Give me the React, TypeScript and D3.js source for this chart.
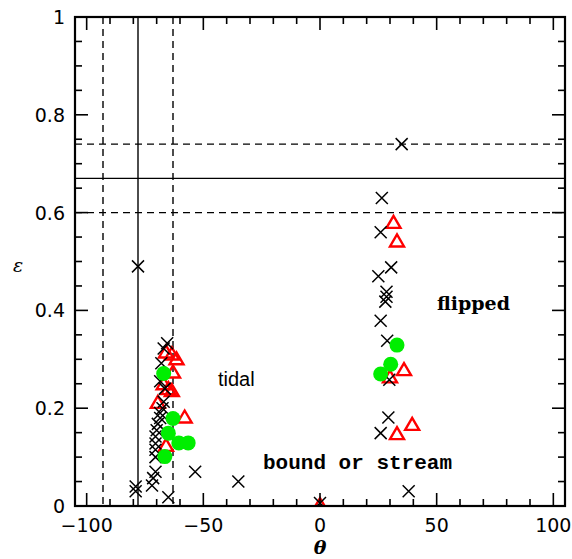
import React, { useEffect, useRef } from "react";
import * as d3 from "d3";

// Crosses: (theta, epsilon)
const crossTheta = [35, 26.5, 26, 25, 30.5, 28.5, 28.5, 28, 26, 28.8, 29.7, 29.3, 26, 38, -35,
  -78, -79, -79, -72, -71.5, -70.5, -65, -53.5,
  -70.5, -70.5, -70.5, -70.5, -70, -69.5, -68.5, -68.5, -67.5,
  -65.5, -67, -68, -68.5, -67, -66.5, 0];
const crossEps = [0.74, 0.63, 0.56, 0.47, 0.488, 0.438, 0.428, 0.418, 0.379, 0.338, 0.258, 0.181, 0.149, 0.03, 0.05,
  0.49, 0.04, 0.03, 0.042, 0.057, 0.07, 0.018, 0.07,
  0.1, 0.115, 0.128, 0.142, 0.155, 0.168, 0.18, 0.19, 0.2,
  0.333, 0.322, 0.292, 0.255, 0.213, 0.24, 0.006];

// Open triangles
const triTheta = [-66, -63.5, -61.5, -63, -67, -63.5, -65, -69.5, -58, -66,
  31.5, 33, 36, 39.5, 33, 30, 0];
const triEps = [0.316, 0.312, 0.302, 0.275, 0.251, 0.237, 0.241, 0.213, 0.183, 0.125,
  0.581, 0.543, 0.28, 0.168, 0.149, 0.265, 0.004];

// Filled circles
const circTheta = [-67, -63, -65, -60.5, -56.5, -66.5, 33, 30.3, 26];
const circEps = [0.271, 0.179, 0.149, 0.129, 0.129, 0.101, 0.329, 0.29, 0.27];

const xTicks = [-100, -50, 0, 50, 100];
const yTicks = [0, 0.2, 0.4, 0.6, 0.8, 1];
const xMinor = d3.range(-100, 101, 10);
const yMinor = d3.range(0, 1.001, 0.05);

// Reference lines: theta = -78 ± 15, epsilon = 0.67 ± 0.07
const thetaLine = -78;
const thetaBand = 15;
const epsLine = 0.67;
const epsBand = 0.07;

const regionLabels = ["tidal", "flipped", "bound or stream"];

const W = 572, H = 559;
const L = 75, R = 565, T = 17, B = 506;

export default function App() {
  const ref = useRef<SVGSVGElement>(null);
  useEffect(() => {
    const svg = d3.select(ref.current);
    svg.selectAll("*").remove();
    const x = d3.scaleLinear().domain([-105, 105]).range([L, R]);
    const y = d3.scaleLinear().domain([0, 1]).range([B, T]);
    const fmt = (v: number) => (v < 0 ? "\u2212" + Math.abs(v) : String(v));

    svg.append("defs").append("clipPath").attr("id", "plotclip")
      .append("rect").attr("x", L).attr("y", T).attr("width", R - L).attr("height", B - T);

    const g = svg.append("g");
    const lines = g.append("g").attr("stroke", "#000").attr("fill", "none").attr("stroke-width", 1.4);
    // vertical lines
    [[thetaLine, null], [thetaLine - thetaBand, "7,5"], [thetaLine + thetaBand, "7,5"]].forEach(([v, d]) => {
      lines.append("line").attr("x1", x(v as number)).attr("x2", x(v as number)).attr("y1", T).attr("y2", B)
        .attr("stroke-dasharray", d as any);
    });
    // horizontal lines
    [[epsLine, null], [epsLine - epsBand, "7,5"], [epsLine + epsBand, "7,5"]].forEach(([v, d]) => {
      lines.append("line").attr("y1", y(v as number)).attr("y2", y(v as number)).attr("x1", L).attr("x2", R)
        .attr("stroke-dasharray", d as any);
    });

    const marks = g.append("g").attr("clip-path", "url(#plotclip)");
    const tw = 7, th = 6;
    marks.selectAll("path.tri").data(d3.range(triTheta.length)).join("path")
      .attr("d", (i) => {
        const cx = x(triTheta[i]), cy = y(triEps[i]);
        return `M${cx - tw},${cy + th}L${cx + tw},${cy + th}L${cx},${cy - th}Z`;
      })
      .attr("fill", "none").attr("stroke", "#ff0000").attr("stroke-width", 2.4);
    const cs = 6;
    marks.selectAll("path.cross").data(d3.range(crossTheta.length)).join("path")
      .attr("d", (i) => {
        const cx = x(crossTheta[i]), cy = y(crossEps[i]);
        return `M${cx - cs},${cy - cs}L${cx + cs},${cy + cs}M${cx - cs},${cy + cs}L${cx + cs},${cy - cs}`;
      })
      .attr("fill", "none").attr("stroke", "#000").attr("stroke-width", 1.5);
    marks.selectAll("circle").data(d3.range(circTheta.length)).join("circle")
      .attr("cx", (i) => x(circTheta[i])).attr("cy", (i) => y(circEps[i])).attr("r", 7.5)
      .attr("fill", "#00ee00");

    // frame and ticks
    const ax = g.append("g").attr("stroke", "#000").attr("stroke-width", 2.2).attr("fill", "none");
    ax.append("rect").attr("x", L).attr("y", T).attr("width", R - L).attr("height", B - T);
    const tk = g.append("g").attr("stroke", "#000").attr("stroke-width", 1.6);
    xMinor.forEach((v) => {
      const len = xTicks.includes(v) ? 13 : 7;
      tk.append("line").attr("x1", x(v)).attr("x2", x(v)).attr("y1", B).attr("y2", B - len);
      tk.append("line").attr("x1", x(v)).attr("x2", x(v)).attr("y1", T).attr("y2", T + len);
    });
    yMinor.forEach((v) => {
      const major = yTicks.some((t) => Math.abs(t - v) < 1e-6);
      const len = major ? 13 : 7;
      tk.append("line").attr("y1", y(v)).attr("y2", y(v)).attr("x1", L).attr("x2", L + len);
      tk.append("line").attr("y1", y(v)).attr("y2", y(v)).attr("x1", R).attr("x2", R - len);
    });

    const font = "'DejaVu Sans', sans-serif";
    g.selectAll("text.xt").data(xTicks).join("text")
      .attr("x", (d) => x(d)).attr("y", B + 26).attr("text-anchor", "middle")
      .attr("font-family", font).attr("font-size", 19).text((d) => fmt(d));
    g.selectAll("text.yt").data(yTicks).join("text")
      .attr("x", L - 10).attr("y", (d) => y(d) + 7).attr("text-anchor", "end")
      .attr("font-family", font).attr("font-size", 19).text((d) => String(d));

    g.append("text").attr("x", x(0)).attr("y", 554).attr("text-anchor", "middle")
      .attr("font-family", "'DejaVu Serif', serif").attr("font-style", "italic").attr("font-weight", "bold")
      .attr("font-size", 19).text("\u03b8");
    g.append("text").attr("x", 18).attr("y", 272).attr("text-anchor", "middle")
      .attr("font-family", "'DejaVu Serif', serif").attr("font-style", "italic")
      .attr("font-size", 19).text("\u03b5");

    g.append("text").attr("x", 218).attr("y", 386).attr("font-family", "'Liberation Sans', sans-serif")
      .attr("font-size", 20).text(regionLabels[0]);
    g.append("text").attr("x", 437).attr("y", 310).attr("font-family", "'DejaVu Serif', serif")
      .attr("font-weight", "bold").attr("font-size", 19).text(regionLabels[1]);
    g.append("text").attr("x", 263).attr("y", 469).attr("font-family", "'Liberation Mono', monospace")
      .attr("font-weight", "bold").attr("font-size", 21).text(regionLabels[2]);
  }, []);
  return (
    <div style={{ position: "absolute", left: 0, top: 0 }}>
      <svg ref={ref} width={W} height={H} style={{ display: "block", background: "#fff" }} />
    </div>
  );
}
